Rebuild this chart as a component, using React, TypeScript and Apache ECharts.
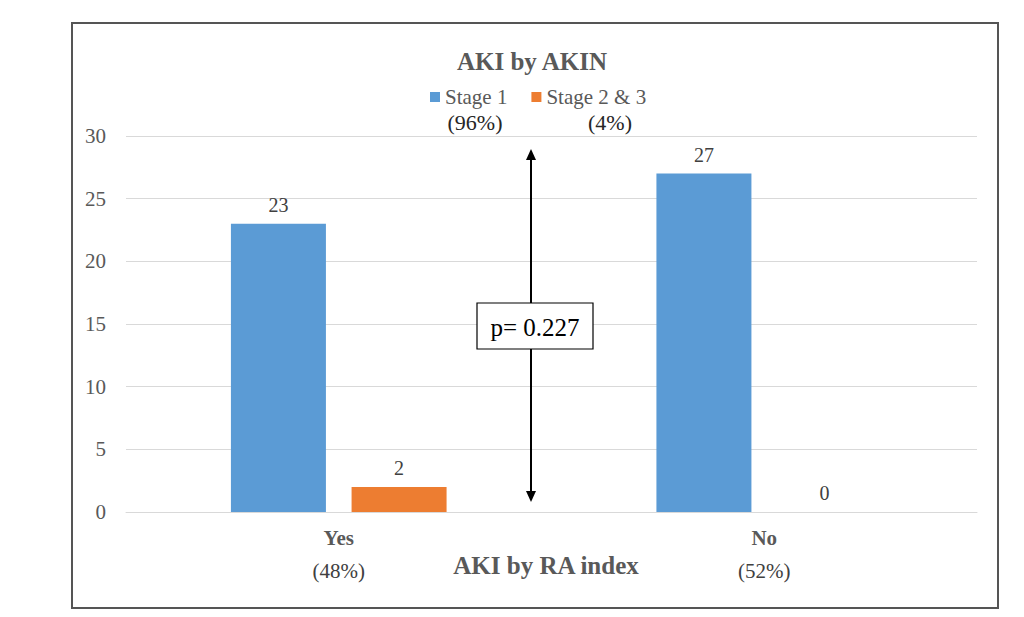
import React, { useEffect, useRef } from "react";
import * as echarts from "echarts";

const categories = ["Yes", "No"];
const categoryPercents = ["(48%)", "(52%)"];
const seriesNames = ["Stage 1", "Stage 2 & 3"];
const seriesPercents = ["(96%)", "(4%)"];
const stage1Values = [23, 27];
const stage23Values = [2, 0];
const yTicks = { min: 0, max: 30, interval: 5 };
const pValueText = "p= 0.227";
const xAxisTitle = "AKI by RA index";

const FONT = "'Liberation Serif', 'Times New Roman', serif";
const TEXT = "#595959";

export default function App() {
  const ref = useRef<HTMLDivElement>(null);
  useEffect(() => {
    if (!ref.current) return;
    const chart = echarts.init(ref.current, null, { renderer: "svg" });
    const labelStyle = {
      show: true,
      position: "top",
      distance: 9,
      fontFamily: FONT,
      fontSize: 20,
      color: "#404040",
    };
    chart.setOption({
      animation: false,
      backgroundColor: "#ffffff",
      title: {
        text: "AKI by AKIN",
        left: 527,
        textAlign: "center",
        top: 44,
        textStyle: { fontFamily: FONT, fontSize: 25, fontWeight: "bold", color: TEXT },
      },
      legend: {
        data: seriesNames,
        left: 430,
        top: 86,
        padding: 0,
        icon: "rect",
        itemWidth: 10,
        itemHeight: 10,
        itemGap: 24,
        textStyle: { fontFamily: FONT, fontSize: 21, color: TEXT, lineHeight: 22 },
      },
      grid: { left: 126, right: 47, top: 136, bottom: 105 },
      xAxis: {
        type: "category",
        data: categories,
        axisLine: { lineStyle: { color: "#d9d9d9", width: 1 } },
        axisTick: { show: false },
        axisLabel: {
          margin: 9,
          formatter: (v: string) => {
            const i = categories.indexOf(v);
            return `{b|${v}}\n{p|${categoryPercents[i]}}`;
          },
          rich: {
            b: { fontFamily: FONT, fontSize: 21, fontWeight: "bold", color: TEXT, lineHeight: 33 },
            p: { fontFamily: FONT, fontSize: 21, color: "#404040", lineHeight: 33 },
          },
        },
      },
      yAxis: {
        type: "value",
        min: yTicks.min,
        max: yTicks.max,
        interval: yTicks.interval,
        axisLine: { show: false },
        axisTick: { show: false },
        splitLine: { lineStyle: { color: "#d9d9d9", width: 1 } },
        axisLabel: { margin: 20, fontFamily: FONT, fontSize: 21, color: TEXT },
      },
      series: [
        {
          name: seriesNames[0],
          type: "bar",
          data: stage1Values,
          barWidth: 95,
          barGap: "27%",
          itemStyle: { color: "#5B9BD5" },
          label: labelStyle,
        },
        {
          name: seriesNames[1],
          type: "bar",
          data: stage23Values,
          barWidth: 95,
          barGap: "27%",
          itemStyle: { color: "#ED7D31" },
          label: labelStyle,
        },
      ],
      graphic: [
        {
          type: "rect",
          shape: { x: 72, y: 23, width: 926, height: 585 },
          style: { fill: "none", stroke: "#555555", lineWidth: 2 },
          z: 10,
        },
        {
          type: "text",
          x: 546,
          y: 565,
          style: { text: xAxisTitle, fontFamily: FONT, fontSize: 25, fontWeight: "bold", fill: TEXT, align: "center", verticalAlign: "middle" },
        },
        {
          type: "text",
          x: 475,
          y: 122,
          style: { text: seriesPercents[0], fontFamily: FONT, fontSize: 22, fill: "#262626", align: "center", verticalAlign: "middle" },
        },
        {
          type: "text",
          x: 610,
          y: 122,
          style: { text: seriesPercents[1], fontFamily: FONT, fontSize: 22, fill: "#262626", align: "center", verticalAlign: "middle" },
        },
        {
          type: "line",
          shape: { x1: 531, y1: 158, x2: 531, y2: 494 },
          style: { stroke: "#000000", lineWidth: 2 },
          z: 20,
        },
        {
          type: "polygon",
          shape: { points: [[531, 149], [526, 160], [536, 160]] },
          style: { fill: "#000000" },
          z: 20,
        },
        {
          type: "polygon",
          shape: { points: [[531, 502], [526, 491], [536, 491]] },
          style: { fill: "#000000" },
          z: 20,
        },
        {
          type: "rect",
          shape: { x: 477, y: 303, width: 116, height: 46 },
          style: { fill: "#ffffff", stroke: "#000000", lineWidth: 1.2 },
          z: 21,
        },
        {
          type: "text",
          x: 535,
          y: 327,
          style: { text: pValueText, fontFamily: FONT, fontSize: 25, fill: "#000000", align: "center", verticalAlign: "middle" },
          z: 22,
        },
      ],
    });
    return () => chart.dispose();
  }, []);
  return (
    <div
      ref={ref}
      style={{ position: "fixed", left: 0, top: 0, width: 1024, height: 617 }}
    />
  );
}
